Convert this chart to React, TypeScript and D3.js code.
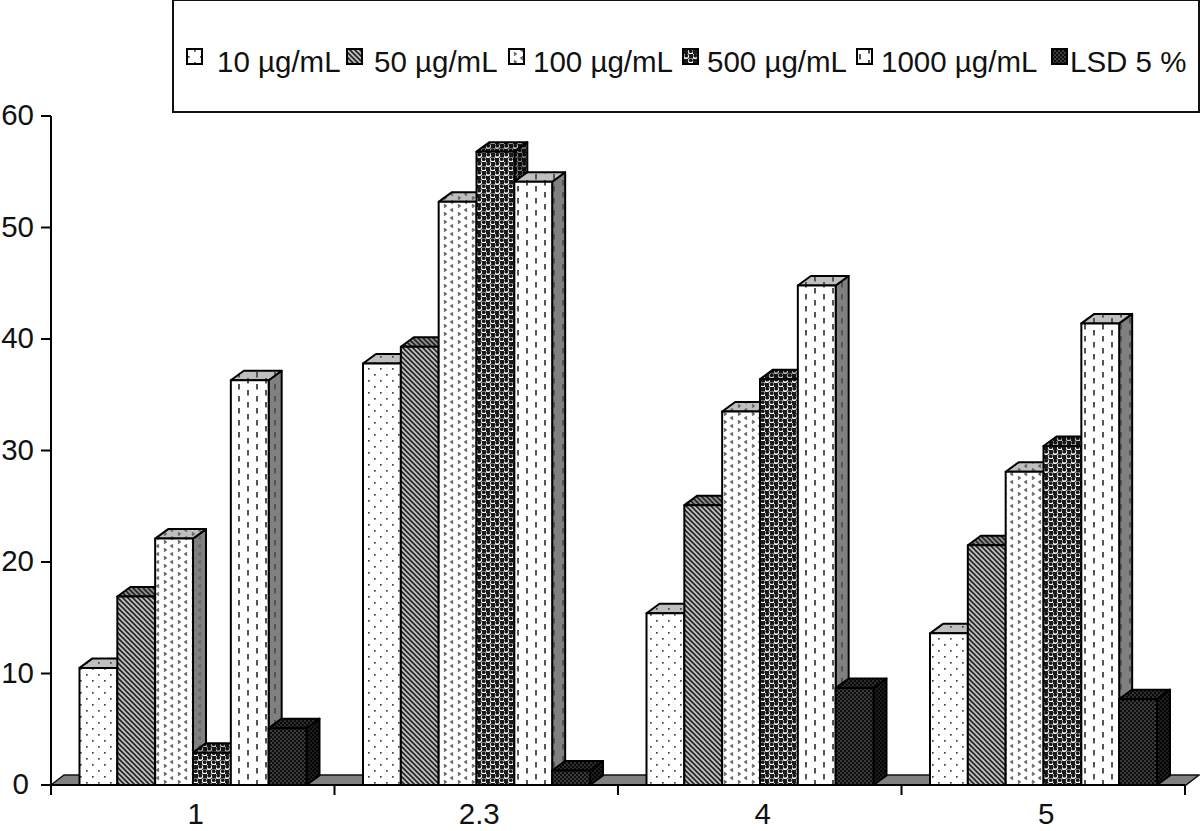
import React from "react";
import * as d3 from "d3";

const categories = ["1", "2.3", "4", "5"];
const seriesNames = ["10 µg/mL", "50 µg/mL", "100 µg/mL", "500 µg/mL", "1000 µg/mL", "LSD 5 %"];
const s10 = [10.5, 37.8, 15.4, 13.6];
const s50 = [16.9, 39.3, 25.1, 21.5];
const s100 = [22.1, 52.3, 33.5, 28.1];
const s500 = [2.9, 56.8, 36.4, 30.4];
const s1000 = [36.3, 54.1, 44.8, 41.4];
const lsd = [5.1, 1.3, 8.7, 7.7];
const allSeries = [s10, s50, s100, s500, s1000, lsd];
const yTicks = [0, 10, 20, 30, 40, 50, 60];
const legendSwatchX = [187, 347, 509, 683, 857, 1052];
const legendTextX = [217, 374, 533, 707, 881, 1070];

const y = d3.scaleLinear().domain([0, 60]).range([785, 116]);
const xGroup = d3.scaleBand<string>().domain(categories).range([51, 1185]);
const xBar = d3.scaleBand<number>().domain([0, 1, 2, 3, 4, 5]).range([28.5, 255.5]);
const DX = 13;
const DY = 9.5;
const font = "'Liberation Sans', Arial, sans-serif";
const FS = 29.5;

function Defs() {
  const tile = (id: string, w: number, h: number, bg: string, children: React.ReactNode) => (
    <pattern id={id} key={id} width={w} height={h} patternUnits="userSpaceOnUse">
      <rect width={w} height={h} fill={bg} />
      {children}
    </pattern>
  );
  const make = (pre: string, shade: number) => {
    const g = (v: number) => d3.interpolateRgb("#000", "#fff")(v * shade);
    return [
      tile(`${pre}0`, 12, 12, g(1), <>
        <rect x={2} y={2} width={1.7} height={1.7} fill="#444" />
        <rect x={8} y={8} width={1.7} height={1.7} fill="#444" />
      </>),
      tile(`${pre}1`, 5, 5, g(0.75), <path d="M-1,-1 L6,6 M-1,4 L1,6 M4,-1 L6,1" stroke="#222" strokeWidth={1.6} />),
      tile(`${pre}2`, 14, 8, g(1), <>
        <path d="M5,0.5 L3,2 L5,3.5" fill="none" stroke="#666" strokeWidth={1.6} />
        <path d="M10,4.5 L12,6 L10,7.5" fill="none" stroke="#666" strokeWidth={1.6} />
      </>),
      tile(`${pre}3`, 9, 9, g(0.1), <>
        <circle cx={2.25} cy={2.25} r={2.8} fill={g(1)} />
        <circle cx={2.25} cy={1.7} r={1.9} fill={g(0.08)} />
        <circle cx={6.75} cy={6.75} r={2.8} fill={g(1)} />
        <circle cx={6.75} cy={6.2} r={1.9} fill={g(0.08)} />
      </>),
      tile(`${pre}4`, 18, 12, g(1), <>
        <rect x={4} y={0} width={2} height={5.5} fill="#555" />
        <rect x={13} y={6} width={2} height={5.5} fill="#555" />
      </>),
      tile(`${pre}5`, 4, 4, g(0.05), <>
        <circle cx={1} cy={1} r={0.7} fill={g(0.55)} />
        <circle cx={3} cy={3} r={0.7} fill={g(0.55)} />
      </>),
    ];
  };
  return <defs>{make("f", 1)}{make("t", 0.75)}{make("s", 0.5)}</defs>;
}

function Bar({ cat, si, v }: { cat: string; si: number; v: number }) {
  const x0 = (xGroup(cat) as number) + (xBar(si) as number);
  const w = xBar.bandwidth();
  const top = y(v);
  const base = y(0);
  const line = { stroke: "#000", strokeWidth: 2, strokeLinejoin: "round" as const };
  return (
    <g {...line}>
      <path d={`M${x0 + w},${top} L${x0 + w + DX},${top - DY} L${x0 + w + DX},${base - DY} L${x0 + w},${base} Z`} fill={`url(#s${si})`} />
      <path d={`M${x0},${top} L${x0 + DX},${top - DY} L${x0 + w + DX},${top - DY} L${x0 + w},${top} Z`} fill={`url(#t${si})`} />
      <rect x={x0} y={top} width={w} height={base - top} fill={`url(#f${si})`} />
    </g>
  );
}

export default function App() {
  const base = y(0);
  const xEnd = xGroup.range()[1];
  return (
    <svg width={1200} height={831} style={{ position: "absolute", left: 0, top: 0, background: "#fff" }}>
      <Defs />
      <rect x={173} y={0} width={1026} height={112} fill="#fff" stroke="#111" strokeWidth={2} />
      {seriesNames.map((n, i) => (
        <g key={n}>
          <rect x={legendSwatchX[i]} y={49} width={15} height={15} fill={`url(#f${i})`} stroke="#000" strokeWidth={2} />
          <text x={legendTextX[i]} y={72} fontFamily={font} fontSize={FS} fill="#111">{n}</text>
        </g>
      ))}
      <path d={`M51,${base} L${51 + DX},${base - DY - 0.5} L1199,${base - DY - 0.5} L1186,${base} Z`} fill="#808080" stroke="#111" strokeWidth={1.5} />
      {categories.map((c, ci) => (
        <g key={c}>
          {allSeries.map((s, si) => <Bar key={si} cat={c} si={si} v={s[ci]} />)}
        </g>
      ))}
      <path d={`M51,${y(60)} L51,${base} L${xEnd},${base}`} fill="none" stroke="#000" strokeWidth={2} />
      {yTicks.map((t) => (
        <g key={t}>
          <line x1={41} x2={51} y1={y(t)} y2={y(t)} stroke="#000" strokeWidth={2} />
          <text x={t === 0 ? 29 : 34} y={y(t) + 9} textAnchor="end" fontFamily={font} fontSize={FS} fill="#111">{t}</text>
        </g>
      ))}
      {[...categories.map((c) => xGroup(c) as number), xEnd].map((x) => (
        <line key={x} x1={x} x2={x} y1={base} y2={base + 10} stroke="#000" strokeWidth={2} />
      ))}
      {categories.map((c) => (
        <text key={c} x={(xGroup(c) as number) + xGroup.bandwidth() / 2 + 3} y={824} textAnchor="middle" fontFamily={font} fontSize={FS} fill="#111">{c}</text>
      ))}
    </svg>
  );
}
